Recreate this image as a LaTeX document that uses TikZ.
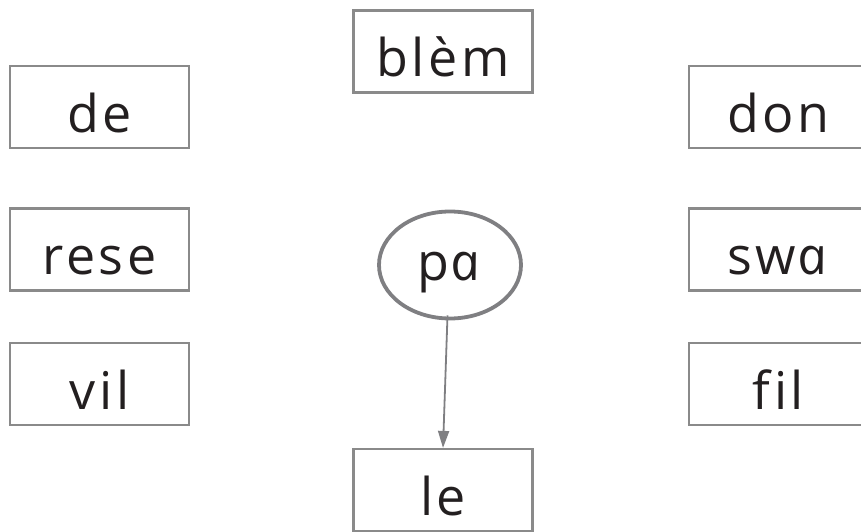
\documentclass[tikz,border=0pt]{standalone}
\usepackage{fontspec}
\setmainfont{Open Sans}[LetterSpace=7,Ligatures={NoCommon}]
\newfontfamily\afont{Open Sans}[LetterSpace=7,ItalicFeatures={FakeSlant=-0.2}]
\newcommand{\sa}{\kern0.08em{\afont\itshape a}}
\usetikzlibrary{shapes.geometric,arrows.meta}
\definecolor{boxgray}{HTML}{8A8A8A}
\definecolor{elgray}{HTML}{7F7F82}
\definecolor{txt}{HTML}{231F20}
\begin{document}
\begin{tikzpicture}[x=1pt,y=-1pt,
  wordbox/.style={draw=boxgray,line width=2.2pt,rectangle,minimum width=179pt,minimum height=82pt,inner sep=0pt,text=txt,text height=50pt,text depth=0pt,font=\fontsize{52}{56}\selectfont},
  wordel/.style={draw=elgray,line width=3.8pt,ellipse,minimum width=142pt,minimum height=107pt,inner sep=0pt,text=txt,text height=30pt,text depth=0pt,font=\fontsize{52}{56}\selectfont},
  conn/.style={draw=elgray,line width=1.8pt,-{Triangle[length=17pt,width=11pt]}}]
\useasboundingbox (0,0) rectangle (861,532);
\node[wordbox] (blem) at (443,51.5) {blèm};
\node[wordbox] (de) at (99.5,107) {de};
\node[wordbox] (don) at (778.5,107) {don};
\node[wordbox] (rese) at (99.5,249.5) {rese};
\node[wordbox] (swa) at (778.5,249.5) {sw\sa};
\node[wordbox] (vil) at (99.5,384) {vil};
\node[wordbox] (fil) at (778.5,384) {fil};
\node[wordbox] (le) at (443,490) {le};
\node[wordel] (pa) at (450,265) {p\sa};
\coordinate (start) at ([xshift=-2.5pt,yshift=5pt]pa.south);
\draw[conn] (start) -- (le.north);
\end{tikzpicture}
\end{document}
